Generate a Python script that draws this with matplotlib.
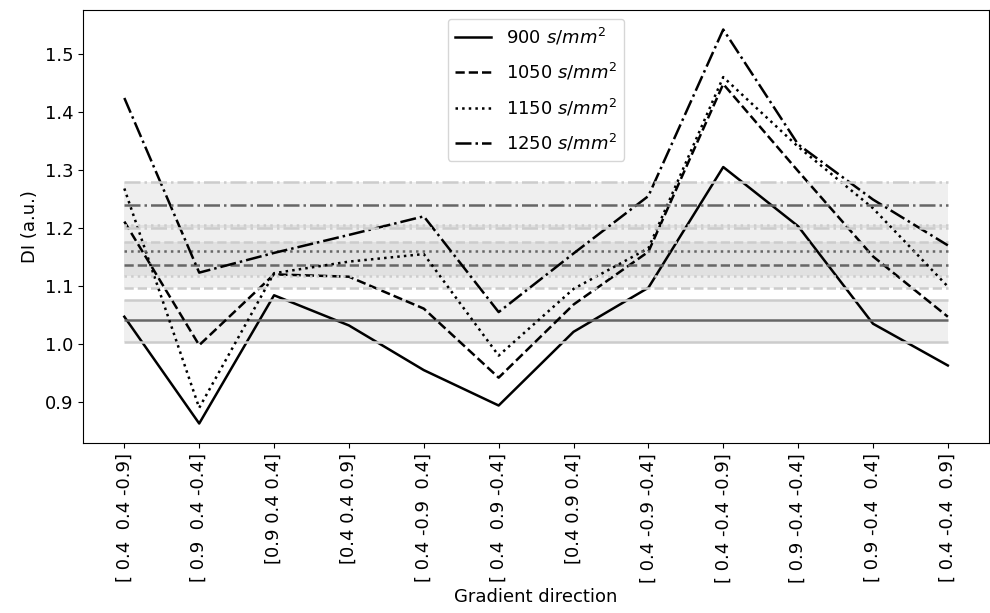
import matplotlib
matplotlib.use("Agg")
import matplotlib.pyplot as plt
import numpy as np

plt.rcParams['font.size'] = 13

directions = ["[ 0.4  0.4 -0.9]", "[ 0.9  0.4 -0.4]", "[0.9 0.4 0.4]", "[0.4 0.4 0.9]",
              "[ 0.4 -0.9  0.4]", "[ 0.4  0.9 -0.4]", "[0.4 0.9 0.4]", "[ 0.4 -0.9 -0.4]",
              "[ 0.4 -0.4 -0.9]", "[ 0.9 -0.4 -0.4]", "[ 0.9 -0.4  0.4]", "[ 0.4 -0.4  0.9]"]

b_values = ["900", "1050", "1150", "1250"]

di_900 = [1.047, 0.863, 1.084, 1.032, 0.955, 0.894, 1.021, 1.097, 1.305, 1.203, 1.035, 0.963]
di_1050 = [1.211, 0.998, 1.120, 1.116, 1.061, 0.942, 1.068, 1.159, 1.448, 1.298, 1.151, 1.047]
di_1150 = [1.268, 0.890, 1.122, 1.142, 1.155, 0.980, 1.095, 1.165, 1.460, 1.340, 1.234, 1.099]
di_1250 = [1.424, 1.123, 1.157, 1.188, 1.220, 1.055, 1.156, 1.255, 1.542, 1.344, 1.249, 1.170]

# mean line and band (lower / upper) per b-value
mean_di = [1.042, 1.136, 1.161, 1.240]
band_lo = [1.004, 1.097, 1.118, 1.200]
band_hi = [1.076, 1.175, 1.205, 1.280]

series = [di_900, di_1050, di_1150, di_1250]
styles = ['-', '--', ':', '-.']

fig = plt.figure(figsize=(9.9, 6.13), dpi=100)
ax = fig.add_axes([0.084, 0.277, 0.915, 0.707])

x = np.arange(len(directions))
for vals, ls, b, m, lo, hi in zip(series, styles, b_values, mean_di, band_lo, band_hi):
    ax.plot(x, vals, color='black', linestyle=ls, linewidth=1.8, label=f"{b} $s/mm^2$")
    ax.hlines(m, x[0], x[-1], colors='#666666', linestyles=ls, linewidth=1.8)
    ax.fill_between(x, lo, hi, color='gray', alpha=0.12, linewidth=0)
    ax.hlines([lo, hi], x[0], x[-1], colors='#cccccc', linestyles=ls, linewidth=1.8)

ax.set_xticks(x)
ax.set_xticklabels(directions, rotation=90)
ax.set_xlabel("Gradient direction")
ax.set_ylabel("DI (a.u.)")
ax.set_yticks([0.9, 1.0, 1.1, 1.2, 1.3, 1.4, 1.5])
ax.legend(loc='upper center', labelspacing=0.8)

fig.savefig("out.png", dpi=100)
